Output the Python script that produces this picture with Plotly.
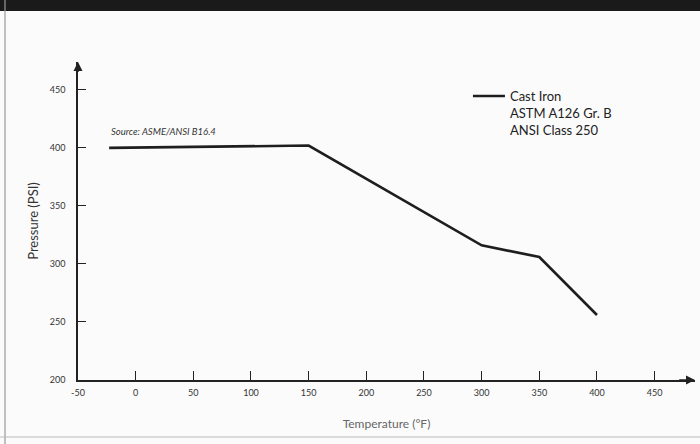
import plotly.graph_objects as go

temps = [-23, 150, 300, 350, 400]
pressure = [400, 402, 316, 306, 256]
x_ticks = [-50, 0, 50, 100, 150, 200, 250, 300, 350, 400, 450]
y_ticks = [200, 250, 300, 350, 400, 450]
series_name = "Cast Iron<br>ASTM A126 Gr. B<br>ANSI Class 250"

FONT = "Lato, 'Open Sans', sans-serif"
XMAX, YMAX = 485, 474

fig = go.Figure()
fig.add_trace(go.Scatter(x=temps, y=pressure, mode="lines", name=series_name,
                         line=dict(color="#1e1e1e", width=2.6)))

fig.update_layout(
    width=700, height=444,
    margin=dict(l=78, r=5, t=62, b=64),
    paper_bgcolor="#fbfbfb", plot_bgcolor="#fbfbfb",
    font=dict(family=FONT, color="#2a2a2a"),
    showlegend=True,
    legend=dict(x=0.632, y=0.94, xanchor="left", yanchor="top",
                bgcolor="rgba(0,0,0,0)", valign="top",
                font=dict(size=13, color="#222"), itemwidth=32),
    xaxis=dict(range=[-50, XMAX], tickvals=x_ticks, ticktext=[str(v) for v in x_ticks],
               showgrid=False, zeroline=False, showline=True, linecolor="#222", linewidth=1.5,
               ticks="inside", ticklen=9, tickcolor="#222", tickwidth=1.4,
               tickfont=dict(size=9, color="#333"), ticklabelstandoff=3,
               title=dict(text="Temperature (°F)", font=dict(size=12, color="#666"), standoff=23)),
    yaxis=dict(range=[200, YMAX], tickvals=y_ticks, ticktext=[str(v) for v in y_ticks],
               showgrid=False, zeroline=False, showline=True, linecolor="#222", linewidth=1.5,
               ticks="inside", ticklen=8, tickcolor="#222", tickwidth=1.4,
               tickfont=dict(size=9, color="#333"), ticklabelstandoff=9,
               title=dict(text="Pressure (PSI)", font=dict(size=13, color="#333"), standoff=8)),
)

# axis arrowheads
fig.add_annotation(x=XMAX, y=200, ax=XMAX - 15, ay=200, xref="x", yref="y", axref="x", ayref="y",
                   text="", showarrow=True, arrowhead=2, arrowsize=1.2, arrowwidth=1.5, arrowcolor="#222")
fig.add_annotation(x=-50, y=YMAX, ax=-50, ay=YMAX - 10, xref="x", yref="y", axref="x", ayref="y",
                   text="", showarrow=True, arrowhead=2, arrowsize=1.2, arrowwidth=1.5, arrowcolor="#222")

# source note
fig.add_annotation(x=-23, y=414, xref="x", yref="y", text="<i>Source: ASME/ANSI B16.4</i>",
                   showarrow=False, xanchor="left", yanchor="middle",
                   font=dict(size=9.5, color="#333"))

# scan frame: dark top band, thin borders
fig.add_shape(type="rect", xref="paper", yref="paper", x0=-0.2, x1=1.1, y0=1 + 51 / 318, y1=1.25,
              fillcolor="#1a1a1a", line=dict(width=0), layer="above")
fig.add_shape(type="line", xref="paper", yref="paper", x0=-73 / 617, x1=-73 / 617, y0=-0.25, y1=1.2,
              line=dict(color="#999", width=1.2))
fig.add_shape(type="line", xref="paper", yref="paper", x0=-0.2, x1=1.1, y0=-57 / 318, y1=-57 / 318,
              line=dict(color="#bbb", width=1.2))

fig.write_html("out.html", config={"displayModeBar": False},
               post_script="document.body.style.margin='0px';document.body.style.overflow='hidden';")
